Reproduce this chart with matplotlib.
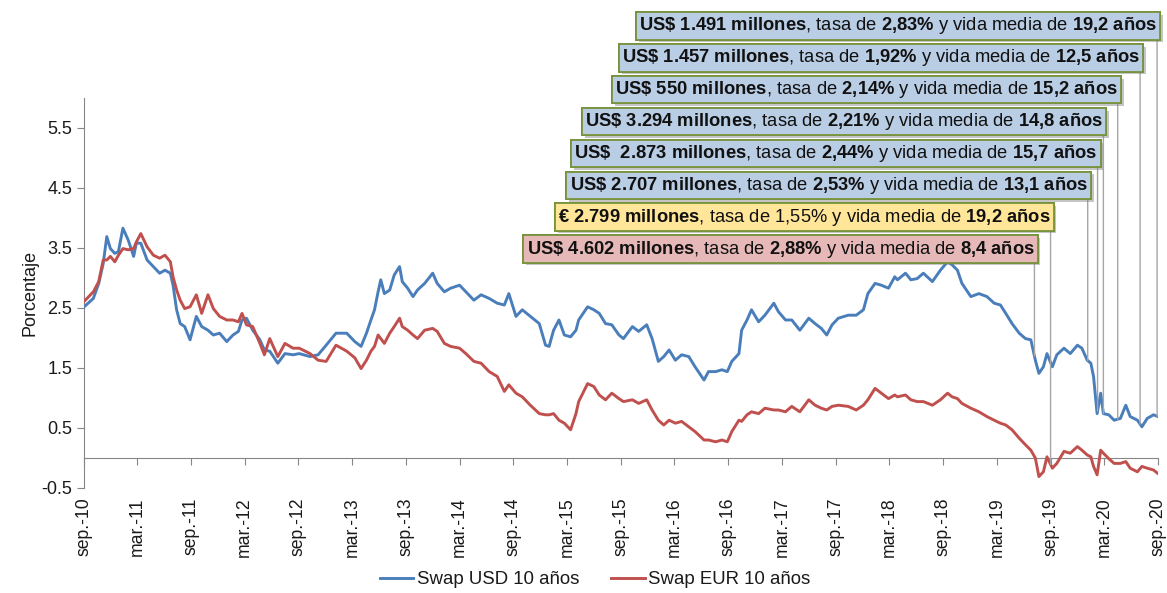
import numpy as np
import matplotlib
matplotlib.use("Agg")
import matplotlib.pyplot as plt
from matplotlib import patheffects as pe
from matplotlib.lines import Line2D

plt.rcParams['font.family'] = ['Liberation Sans', 'DejaVu Sans']
plt.rcParams['mathtext.fontset'] = 'custom'
plt.rcParams['mathtext.rm'] = 'Liberation Sans'
plt.rcParams['mathtext.bf'] = 'Liberation Sans:bold'
plt.rcParams['mathtext.it'] = 'Liberation Sans:italic'

# ---------------- data (months since sep-2010) ----------------
months = [0.0, 1.1, 1.7, 2.2, 2.6, 3.0, 3.5, 3.9, 4.4, 5.0, 5.6, 5.9, 6.4, 7.1, 7.8, 8.5,
          9.1, 9.7, 10.0, 10.4, 10.8, 11.3, 11.9, 12.6, 13.2, 13.9, 14.5, 15.2, 16.0, 16.7,
          17.3, 17.7, 18.2, 18.9, 19.7, 20.2, 20.8, 21.7, 22.5, 23.4, 24.1, 25.3, 26.2, 27.1,
          28.2, 29.4, 30.3, 31.0, 31.6, 32.1, 32.5, 32.9, 33.2, 33.6, 34.2, 34.7, 35.3, 35.6,
          36.2, 36.8, 37.3, 38.1, 39.0, 39.5, 40.3, 41.0, 42.0, 42.7, 43.6, 44.4, 45.3, 46.2,
          47.0, 47.5, 48.3, 49.0, 49.9, 50.9, 51.6, 52.0, 52.5, 53.1, 53.7, 54.4, 55.0, 55.3,
          56.3, 57.0, 57.6, 58.3, 59.0, 59.8, 60.3, 61.3, 62.0, 62.9, 63.5, 64.2, 64.8, 65.4,
          66.1, 66.8, 67.6, 68.3, 69.3, 69.8, 70.6, 71.3, 71.9, 72.4, 73.2, 73.5, 74.1, 74.6,
          75.4, 76.1, 77.1, 77.6, 78.4, 79.1, 80.0, 81.0, 81.7, 82.4, 83.0, 83.6, 84.3, 85.4,
          86.3, 87.1, 87.6, 88.4, 89.1, 89.9, 90.6, 90.9, 91.8, 92.4, 93.1, 93.8, 94.8, 95.7,
          96.5, 97.0, 97.6, 98.1, 99.1, 100.0, 100.9, 101.7, 102.4, 103.0, 103.7, 104.5, 105.2,
          105.8, 106.3, 106.7, 107.2, 107.6, 108.2, 108.7, 109.5, 110.2, 111.0, 111.5, 112.1,
          112.5, 112.8, 113.2, 113.6, 113.9, 114.5, 115.1, 115.8, 116.4, 116.9, 117.7, 118.2,
          118.8, 119.5, 120.0]

usd = [2.51, 2.66, 2.91, 3.24, 3.69, 3.49, 3.41, 3.44, 3.83, 3.63, 3.36, 3.58, 3.58, 3.30, 3.19, 3.08,
       3.13, 3.08, 2.88, 2.47, 2.24, 2.19, 1.97, 2.36, 2.19, 2.13, 2.05, 2.08, 1.94, 2.05,
       2.11, 2.30, 2.33, 2.13, 1.97, 1.80, 1.78, 1.58, 1.74, 1.72, 1.74, 1.69, 1.72, 1.88,
       2.08, 2.08, 1.94, 1.86, 2.08, 2.30, 2.47, 2.77, 2.97, 2.74, 2.80, 3.05, 3.19, 2.94,
       2.83, 2.69, 2.80, 2.91, 3.08, 2.91, 2.77, 2.83, 2.88, 2.77, 2.63, 2.72, 2.66, 2.58,
       2.55, 2.74, 2.36, 2.47, 2.36, 2.24, 1.88, 1.86, 2.13, 2.30, 2.05, 2.02, 2.13, 2.30,
       2.52, 2.47, 2.41, 2.24, 2.22, 2.05, 1.99, 2.19, 2.11, 2.22, 1.99, 1.61, 1.69, 1.80,
       1.63, 1.72, 1.69, 1.52, 1.30, 1.44, 1.44, 1.47, 1.44, 1.61, 1.74, 2.13, 2.30, 2.47,
       2.27, 2.38, 2.58, 2.44, 2.30, 2.30, 2.13, 2.33, 2.24, 2.16, 2.05, 2.22, 2.33, 2.38,
       2.38, 2.47, 2.74, 2.91, 2.88, 2.83, 3.02, 2.97, 3.08, 2.97, 2.99, 3.08, 2.94, 3.13,
       3.27, 3.22, 3.13, 2.91, 2.69, 2.74, 2.69, 2.58, 2.55, 2.41, 2.24, 2.08, 1.99,
       1.97, 1.63, 1.41, 1.52, 1.74, 1.52, 1.72, 1.83, 1.74, 1.88, 1.83, 1.63,
       1.58, 1.36, 0.74, 1.08, 0.74, 0.72, 0.63, 0.66, 0.88, 0.69, 0.63, 0.52,
       0.66, 0.72, 0.69]

eur = [2.60, 2.77, 2.94, 3.30, 3.30, 3.36, 3.27, 3.38, 3.49, 3.47, 3.49, 3.60, 3.74, 3.52, 3.38, 3.33,
       3.38, 3.27, 3.02, 2.80, 2.63, 2.49, 2.52, 2.72, 2.41, 2.72, 2.49, 2.36, 2.30, 2.30,
       2.27, 2.41, 2.22, 2.19, 1.91, 1.72, 1.99, 1.69, 1.91, 1.83, 1.83, 1.74, 1.63, 1.61,
       1.88, 1.78, 1.67, 1.49, 1.63, 1.78, 1.86, 2.05, 1.99, 1.91, 2.08, 2.19, 2.33, 2.19,
       2.13, 2.05, 1.99, 2.13, 2.16, 2.11, 1.91, 1.86, 1.83, 1.74, 1.61, 1.58, 1.44, 1.36,
       1.11, 1.22, 1.08, 1.02, 0.88, 0.74, 0.72, 0.72, 0.74, 0.63, 0.58, 0.47, 0.74, 0.94,
       1.24, 1.19, 1.05, 0.97, 1.08, 0.99, 0.94, 0.97, 0.91, 0.97, 0.80, 0.63, 0.55, 0.63,
       0.58, 0.61, 0.52, 0.44, 0.30, 0.30, 0.27, 0.30, 0.27, 0.44, 0.63, 0.61, 0.72, 0.77,
       0.74, 0.83, 0.80, 0.80, 0.77, 0.86, 0.77, 0.97, 0.88, 0.83, 0.80, 0.86, 0.88, 0.86,
       0.80, 0.88, 0.97, 1.16, 1.08, 0.99, 1.05, 1.02, 1.05, 0.97, 0.94, 0.94, 0.88, 0.97,
       1.08, 1.02, 0.99, 0.91, 0.83, 0.77, 0.69, 0.63, 0.58, 0.55, 0.47, 0.33, 0.22,
       0.13, 0.00, -0.31, -0.23, 0.02, -0.17, -0.09, 0.11, 0.08, 0.19, 0.13, 0.05,
       0.02, -0.14, -0.28, 0.13, 0.08, -0.01, -0.09, -0.09, -0.06, -0.17, -0.23, -0.14,
       -0.17, -0.20, -0.26]

tick_months = list(range(0, 121, 6))
tick_labels = ['sep.-10', 'mar.-11', 'sep.-11', 'mar.-12', 'sep.-12', 'mar.-13', 'sep.-13',
               'mar.-14', 'sep.-14', 'mar.-15', 'sep.-15', 'mar.-16', 'sep.-16', 'mar.-17',
               'sep.-17', 'mar.-18', 'sep.-18', 'mar.-19', 'sep.-19', 'mar.-20', 'sep.-20']
y_ticks = [-0.5, 0.5, 1.5, 2.5, 3.5, 4.5, 5.5]

series_names = ['Swap USD 10 años', 'Swap EUR 10 años']

# issues (top box first)
issue_texts = [
    r"$\mathbf{US\$\ 1.491\ millones}$, tasa de $\mathbf{2{,}83\%}$ y vida media de $\mathbf{19{,}2\ años}$",
    r"$\mathbf{US\$\ 1.457\ millones}$, tasa de $\mathbf{1{,}92\%}$ y vida media de $\mathbf{12{,}5\ años}$",
    r"$\mathbf{US\$\ 550\ millones}$, tasa de $\mathbf{2{,}14\%}$ y vida media de $\mathbf{15{,}2\ años}$",
    r"$\mathbf{US\$\ 3.294\ millones}$, tasa de $\mathbf{2{,}21\%}$ y vida media de $\mathbf{14{,}8\ años}$",
    r"$\mathbf{US\$\ \ 2.873\ millones}$, tasa de $\mathbf{2{,}44\%}$ y vida media de $\mathbf{15{,}7\ años}$",
    r"$\mathbf{US\$\ 2.707\ millones}$, tasa de $\mathbf{2{,}53\%}$ y vida media de $\mathbf{13{,}1\ años}$",
    r"$\mathbf{€\ 2.799\ millones}$, tasa de 1,55% y vida media de $\mathbf{19{,}2\ años}$",
    r"$\mathbf{US\$\ 4.602\ millones}$, tasa de $\mathbf{2{,}88\%}$ y vida media de $\mathbf{8{,}4\ años}$",
]
issue_months = [119.9, 118.0, 115.5, 113.9, 113.25, 112.15, 108.0, 106.2]
issue_series = ['usd', 'usd', 'usd', 'usd', 'usd', 'usd', 'eur', 'usd']
issue_fill = ['#B9CDE5'] * 6 + ['#FFE699', '#E6B9B8']

# ---------------- figure ----------------
W, H = 1167, 593
fig = plt.figure(figsize=(W / 100, H / 100), dpi=100)
ax = fig.add_axes([83.5 / W, 1 - 488 / H, (1158 - 83.5) / W, (488 - 98) / H])

blue = '#4A7EBB'
red = '#C0504D'
gray = '#868686'
txtc = '#1a1a1a'

ax.plot(months, usd, color=blue, lw=2.1, solid_joinstyle='round', zorder=3)
ax.plot(months, eur, color=red, lw=2.1, solid_joinstyle='round', zorder=3)

ax.set_xlim(0, 120)
ax.set_ylim(-0.5, 6.0)

for s in ['top', 'right']:
    ax.spines[s].set_visible(False)
ax.spines['left'].set_color(gray)
ax.spines['bottom'].set_color(gray)
ax.spines['bottom'].set_position(('data', 0))

ax.set_yticks(y_ticks)
ax.set_yticklabels(['%.1f' % v for v in y_ticks])
ax.tick_params(axis='y', direction='out', length=5, color=gray, labelsize=13,
               labelcolor=txtc, pad=3)
ax.set_xticks(tick_months)
ax.tick_params(axis='x', direction='out', length=5, color=gray, labelbottom=False)

sec = ax.secondary_xaxis(0.0)
sec.set_xticks(tick_months, tick_labels, rotation=90, fontsize=12.7, color=txtc)
sec.tick_params(length=0, pad=7)
sec.spines['bottom'].set_visible(False)

ax.set_ylabel('Porcentaje', fontsize=13, color=txtc, labelpad=2)

# annotation boxes
box_y_px = [26, 57.9, 89.7, 121.6, 153.4, 185.3, 217.1, 249]
for txt, m, ser, fc, ypx in zip(issue_texts, issue_months, issue_series, issue_fill, box_y_px):
    vals = usd if ser == 'usd' else eur
    yv = float(np.interp(m, months, vals))
    ann = ax.annotate(txt, xy=(m, yv), xycoords='data',
                      xytext=(m, 1 - ypx / H), textcoords=('data', 'figure fraction'),
                      ha='right', va='center', fontsize=13.2, color='#111111',
                      bbox=dict(boxstyle='square,pad=0.17', fc=fc, ec='#77933C', lw=1.3),
                      arrowprops=dict(arrowstyle='-', color='#A6A6A6', lw=1.0,
                                      shrinkA=0, shrinkB=0, relpos=(1, 0)),
                      annotation_clip=False, zorder=5)
    ann.get_bbox_patch().set_path_effects([
        pe.withSimplePatchShadow(offset=(2, -2), shadow_rgbFace='#7f7f7f', alpha=0.45),
        pe.Normal()])

handles = [Line2D([], [], color=blue, lw=2.1), Line2D([], [], color=red, lw=2.1)]
fig.legend(handles, series_names, loc='center', bbox_to_anchor=(0.51, 0.022), ncol=2,
           frameon=False, fontsize=13.4, handlelength=1.8, handletextpad=0.2,
           columnspacing=1.7, labelcolor=txtc)

fig.savefig('out.png', dpi=100)
